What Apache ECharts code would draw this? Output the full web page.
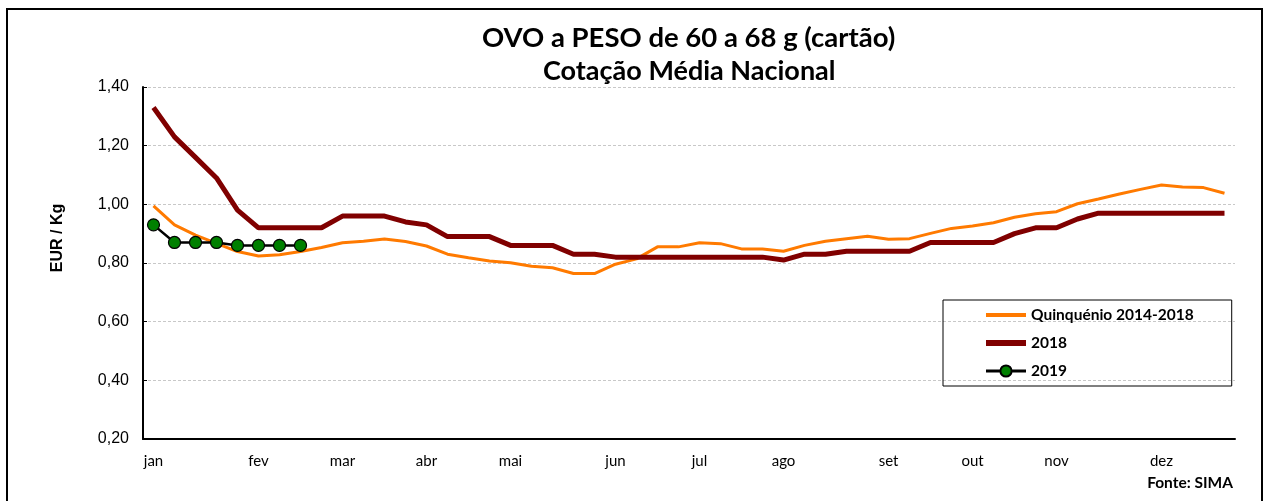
<!DOCTYPE html>
<html>
<head>
<meta charset="utf-8">
<script src="https://cdn.jsdelivr.net/npm/echarts@6/dist/echarts.min.js"></script>
<style>
html,body{margin:0;padding:0;background:#fff;}
#c{width:1264px;height:501px;}
</style>
</head>
<body>
<div id="c"></div>
<script>
// Month tick labels and the week index where each appears
const months = ['jan','fev','mar','abr','mai','jun','jul','ago','set','out','nov','dez'];
const monthWeeks = [0,5,9,13,17,22,26,30,35,39,43,48];
const weekCount = 52;

// Series values (EUR/Kg), weekly
const quinquenio = [0.995,0.93,0.895,0.867,0.839,0.824,0.828,0.839,0.853,0.869,0.874,0.882,0.873,0.858,0.830,0.818,
  0.807,0.801,0.789,0.784,0.764,0.764,0.796,0.814,0.855,0.855,0.869,0.866,0.848,0.848,0.840,0.860,0.874,0.883,
  0.891,0.881,0.883,0.901,0.918,0.926,0.937,0.956,0.968,0.975,1.002,1.018,1.035,1.051,1.066,1.059,1.057,1.038];
const y2018 = [1.33,1.23,1.16,1.09,0.98,0.92,0.92,0.92,0.92,0.96,0.96,0.96,0.94,0.93,0.89,0.89,
  0.89,0.86,0.86,0.86,0.83,0.83,0.82,0.82,0.82,0.82,0.82,0.82,0.82,0.82,0.81,0.83,0.83,0.84,
  0.84,0.84,0.84,0.87,0.87,0.87,0.87,0.90,0.92,0.92,0.95,0.97,0.97,0.97,0.97,0.97,0.97,0.97];
const y2019 = [0.93,0.87,0.87,0.87,0.86,0.86,0.86,0.86];

const categories = [];
for (let i = 0; i < weekCount; i++) {
  const m = monthWeeks.indexOf(i);
  categories.push(m >= 0 ? months[m] : '');
}

const chart = echarts.init(document.getElementById('c'));
chart.setOption({
  animation: false,
  backgroundColor: '#fff',
  title: [
    {text: 'OVO a PESO de 60 a 68 g (cartão)', left: 477, top: 19,
     textStyle: {fontFamily: 'Lato', fontWeight: 'bold', fontSize: 27.5, color: '#000'}},
    {text: 'Cotação Média Nacional', left: 538, top: 53,
     textStyle: {fontFamily: 'Lato', fontWeight: 'bold', fontSize: 27, color: '#000'}}
  ],
  grid: {left: 143, right: 29, top: 87, bottom: 62, containLabel: false},
  xAxis: {
    type: 'category', data: categories, boundaryGap: true,
    axisLine: {lineStyle: {color: '#000', width: 2}},
    axisTick: {inside: true, length: 5, interval: 0, lineStyle: {color: '#000', width: 1}},
    axisLabel: {interval: 0, margin: 15, fontFamily: 'Lato', fontSize: 15, color: '#000'},
    splitLine: {show: false}
  },
  yAxis: {
    type: 'value', min: 0.2, max: 1.4, interval: 0.2,
    axisLine: {show: true, lineStyle: {color: '#000', width: 2}},
    axisTick: {show: true, inside: true, length: 4, lineStyle: {color: '#000'}},
    axisLabel: {margin: 14, fontFamily: 'Liberation Sans', fontSize: 16, color: '#000',
      formatter: v => v.toFixed(2).replace('.', ',')},
    splitLine: {show: true, lineStyle: {color: '#c8c8c8', type: [3, 2], width: 1}}
  },
  legend: {
    orient: 'vertical', left: 943, top: 300,
    padding: [7, 38, 7, 40], itemGap: 12, itemWidth: 40, itemHeight: 14,
    borderColor: '#000', borderWidth: 1,
    textStyle: {fontFamily: 'Lato', fontWeight: 'bold', fontSize: 15.5, color: '#000'},
    data: [
      {name: 'Quinquénio 2014-2018', itemStyle: {opacity: 0}, lineStyle: {width: 4}},
      {name: '2018', itemStyle: {opacity: 0}, lineStyle: {width: 6}},
      {name: '2019', lineStyle: {width: 3}}
    ]
  },
  series: [
    {name: 'Quinquénio 2014-2018', type: 'line', data: quinquenio, symbol: 'none',
     lineStyle: {color: '#ff7a00', width: 3}, itemStyle: {color: '#ff7a00'}, z: 2},
    {name: '2018', type: 'line', data: y2018, symbol: 'none',
     lineStyle: {color: '#800000', width: 5}, itemStyle: {color: '#800000'}, z: 3},
    {name: '2019', type: 'line', data: y2019, symbol: 'circle', symbolSize: 12,
     lineStyle: {color: '#000', width: 2.5},
     itemStyle: {color: '#008000', borderColor: '#000', borderWidth: 1.2}, z: 4}
  ],
  graphic: [
    {type: 'rect', shape: {x: 7, y: 9, width: 1255, height: 520},
     style: {fill: 'none', stroke: '#000', lineWidth: 2}, silent: true, z: -1},
    {type: 'text', x: 58, y: 238, rotation: Math.PI / 2,
     style: {text: 'EUR / Kg', fontFamily: 'Liberation Sans', fontWeight: 'bold', fontSize: 16,
       fill: '#000', align: 'center', verticalAlign: 'middle'}},
    {type: 'text', right: 31, top: 475,
     style: {text: 'Fonte: SIMA', fontFamily: 'Lato', fontWeight: 'bold', fontSize: 15.5, fill: '#000'}}
  ]
});
</script>
</body>
</html>
